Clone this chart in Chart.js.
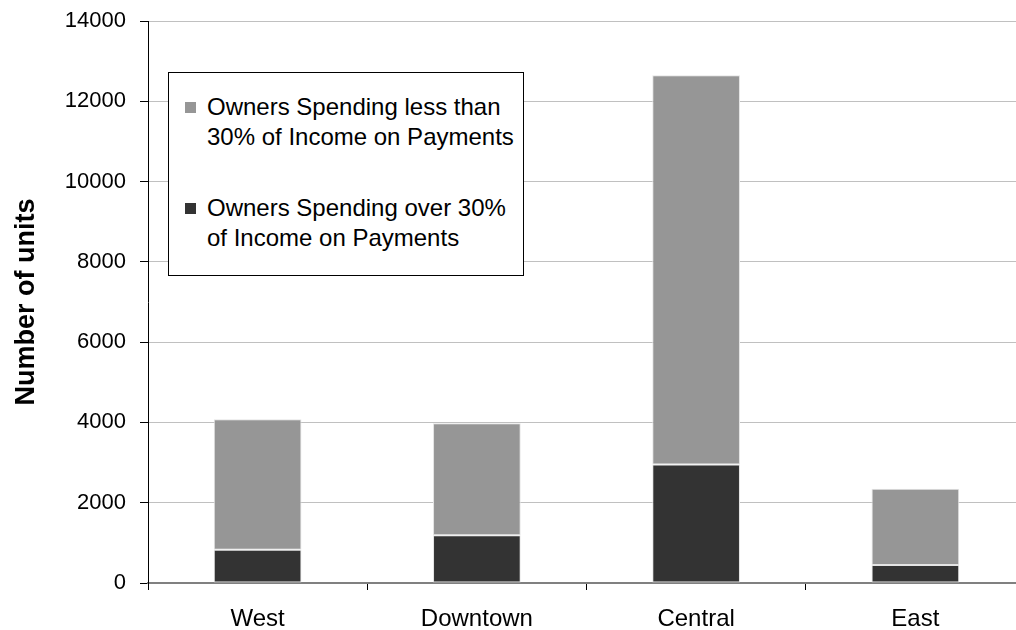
<!DOCTYPE html>
<html>
<head>
<meta charset="utf-8">
<title>Owner cost burden by area</title>
<script src="https://cdn.jsdelivr.net/npm/chart.js@4.4.1/dist/chart.umd.min.js"></script>
<style>
  html, body {
    margin: 0;
    padding: 0;
    background: #ffffff;
    overflow: hidden;
  }
  #wrap {
    position: relative;
    width: 1026px;
    height: 630px;
  }
  #owners-chart {
    display: block;
  }
  #legend {
    position: absolute;
    left: 168px;
    top: 72px;
    width: 354px;
    height: 202px;
    border: 1px solid #000000;
    background: #ffffff;
    font-family: "Liberation Sans", Arial, sans-serif;
    font-size: 24px;
    color: #000000;
    box-sizing: content-box;
  }
  #legend .item {
    position: absolute;
    left: 38px;
    line-height: 30px;
    white-space: nowrap;
  }
  #legend .swatch {
    position: absolute;
    left: -22px;
    top: 10px;
    width: 11px;
    height: 11px;
  }
</style>
</head>
<body>
<div id="wrap">
  <canvas id="owners-chart" width="1026" height="630"></canvas>
  <div id="legend"></div>
</div>
<script>
// areas along the x axis
let categories = ["West", "Downtown", "Central", "East"];

// owner households by share of income going to payments
let overThirty = [830, 1190, 2950, 450];
let underThirty = [3250, 2790, 9700, 1900];

// legend text, one entry per line
let overThirtyName = ["Owners Spending over 30%", "of Income on Payments"];
let underThirtyName = ["Owners Spending less than", "30% of Income on Payments"];

let yTicks = [0, 2000, 4000, 6000, 8000, 10000, 12000, 14000];

let colorsHEX = {
  dark: "#333333",
  light: "#969696",
  edge: "#e4e4e4",
  grid: "#c0c0c0",
  axis: "#808080",
};

Chart.defaults.font.family = "'Liberation Sans', Arial, sans-serif";
Chart.defaults.color = "#000000";

let ownersChart = new Chart("owners-chart", {
  type: "bar",
  data: {
    labels: categories,
    datasets: [
      {
        label: overThirtyName.join(" "),
        data: overThirty,
        backgroundColor: colorsHEX.dark,
        borderColor: colorsHEX.edge,
        borderWidth: 1,
        borderSkipped: false,
        barPercentage: 0.4,
        categoryPercentage: 1,
        lines: overThirtyName,
      },
      {
        label: underThirtyName.join(" "),
        data: underThirty,
        backgroundColor: colorsHEX.light,
        borderColor: colorsHEX.edge,
        borderWidth: 1,
        borderSkipped: false,
        barPercentage: 0.4,
        categoryPercentage: 1,
        lines: underThirtyName,
      },
    ],
  },
  options: {
    responsive: false,
    animation: false,
    layout: {
      padding: { top: 21, right: 1, left: 0, bottom: 0 },
    },
    plugins: {
      legend: { display: false },
      tooltip: { enabled: false },
    },
    scales: {
      x: {
        stacked: true,
        afterFit: function (scale) {
          scale.height = 47;
        },
        ticks: {
          font: { size: 24 },
          padding: 15,
        },
        grid: {
          offset: true,
          drawOnChartArea: false,
          tickLength: 7,
          tickColor: "#000000",
        },
        border: {
          color: colorsHEX.axis,
          width: 2,
        },
      },
      y: {
        stacked: true,
        min: 0,
        max: 14000,
        afterFit: function (scale) {
          scale.width = 148;
          scale.paddingTop = 0;
          scale.paddingBottom = 0;
        },
        afterBuildTicks: function (scale) {
          scale.ticks = yTicks.map((v) => ({ value: v }));
        },
        ticks: {
          font: { size: 22 },
          padding: 14,
          callback: function (value) {
            return String(value);
          },
        },
        grid: {
          color: colorsHEX.grid,
          tickColor: "#000000",
          tickLength: 8,
        },
        border: {
          color: "#000000",
          width: 1,
        },
        title: {
          display: true,
          text: "Number of units",
          font: { size: 27, weight: "bold" },
          padding: { top: 10, bottom: 0 },
        },
      },
    },
  },
});

// boxed legend, top series first
let legendBox = document.getElementById("legend");
let legendTops = [19, 120];
ownersChart.data.datasets
  .slice()
  .reverse()
  .forEach((ds, i) => {
    let item = document.createElement("div");
    item.className = "item";
    item.style.top = legendTops[i] + "px";
    item.innerHTML =
      `<span class="swatch" style="background:${ds.backgroundColor}"></span>` +
      ds.lines.join("<br>");
    legendBox.appendChild(item);
  });
</script>
</body>
</html>
